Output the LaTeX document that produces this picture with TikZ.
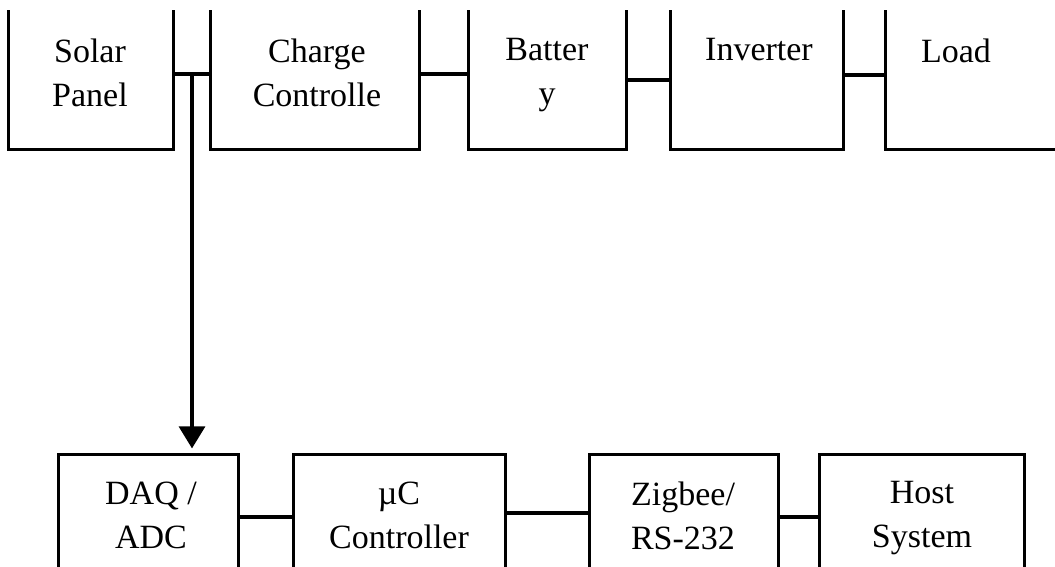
\documentclass[tikz,border=0pt]{standalone}
\usepackage{fontspec}
\setmainfont{Liberation Serif}
\usepackage{tikz}
\usetikzlibrary{arrows.meta}

\begin{document}
\begin{tikzpicture}[x=1pt,y=-1pt,line width=3.2pt,>={Triangle[length=22pt,width=26pt]},
    blk/.style={inner sep=0pt,minimum height=136pt},
    blkb/.style={inner sep=0pt,minimum height=122pt},
    lbl/.style={anchor=north,align=center,inner sep=0pt,font=\fontsize{34}{44}\selectfont}]
  \useasboundingbox (0,0) rectangle (1055,567);
  \clip (0,0) rectangle (1055,567);
  % upper row
  \node[blk,minimum width=162pt] (sp) at (91,80) {};
  \node[blk,minimum width=206pt] (cc) at (315,80) {};
  \node[blk,minimum width=155pt] (bt) at (547.5,80) {};
  \node[blk,minimum width=170pt] (iv) at (757,80) {};
  \node[blk,minimum width=183pt] (ld) at (978.5,80) {};
  \foreach \b in {sp,cc,bt,iv,ld}
    \draw (\b.north west) -- (\b.south west) -- (\b.south east) -- (\b.north east);
  \node[lbl] (sp-t) at (90,37) {Solar\\Panel};
  \node[lbl] (cc-t) at (317,37) {Charge\\Controlle};
  \node[lbl] (bt-t) at (547,37) {Batter\\y};
  \node[lbl] (iv-t) at (759,37) {Inverter};
  \node[lbl] (ld-t) at (956,37) {Load};
  \draw ([yshift=6pt]sp.east) -- coordinate[midway] (tap) ([yshift=6pt]cc.west);
  \draw ([yshift=6pt]cc.east) -- ([yshift=6pt]bt.west);
  \draw (bt.east) -- (iv.west);
  \draw ([yshift=5pt]iv.east) -- ([yshift=5pt]ld.west);
  % lower row
  \node[blkb,minimum width=177pt] (dq) at (148.5,517) {};
  \node[blkb,minimum width=209pt] (uc) at (399.5,517) {};
  \node[blkb,minimum width=186pt] (zb) at (684,517) {};
  \node[blkb,minimum width=202pt] (hs) at (922,517) {};
  \foreach \b in {dq,uc,zb,hs}
    \draw (\b.south west) -- (\b.north west) -- (\b.north east) -- (\b.south east);
  \node[lbl] (dq-t) at (151,480) {DAQ /\\ADC};
  \node[lbl] (uc-t) at (399,480) {µC\\Controller};
  \node[lbl] (zb-t) at (683,480) {Zigbee/\\RS-232};
  \node[lbl] (hs-t) at (922,480) {Host\\System};
  \draw (dq.east) -- (uc.west);
  \draw ([yshift=4pt]uc.east) -- ([yshift=4pt]zb.west);
  \draw (zb.east) -- (hs.west);
  \draw[->,shorten >=6pt] (tap) -- (tap |- dq.north);
\end{tikzpicture}
\end{document}
